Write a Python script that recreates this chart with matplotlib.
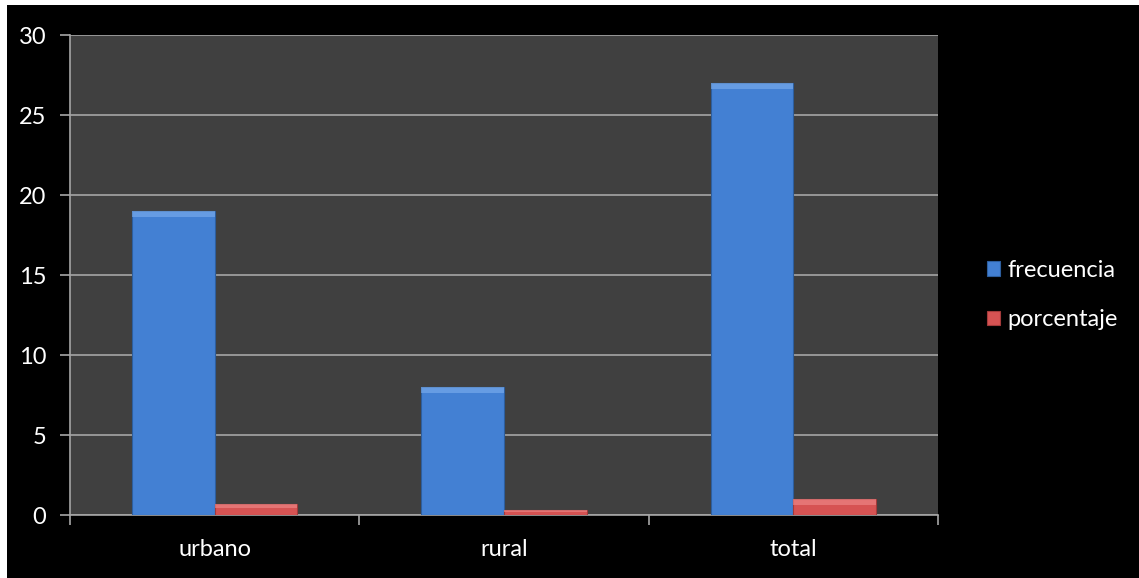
import matplotlib.pyplot as plt
import numpy as np
from matplotlib.patches import Rectangle

plt.rcParams['font.family'] = ['Lato', 'DejaVu Sans']

# data
categorias = ["urbano", "rural", "total"]
frecuencia = [19, 8, 27]
porcentaje = [0.7, 0.3, 1.0]

BLUE = "#4380d3"
RED = "#d65353"

fig = plt.figure(figsize=(11.39, 5.78), dpi=100, facecolor="white")
# black backdrop with thin white margin on left/top
fig.patches.append(Rectangle((7 / 1139, 0), 1, 1 - 5 / 578, transform=fig.transFigure,
                             facecolor="black", edgecolor="none", zorder=-10))

ax = fig.add_axes([70 / 1139, 63 / 578, 868 / 1139, 480 / 578])
ax.set_facecolor("#404040")

x = np.arange(len(categorias))
w = 1 / 3.5
b1 = ax.bar(x - w / 2, frecuencia, w, color=BLUE, edgecolor="#2d5e9e", linewidth=0.8,
            label="frecuencia", zorder=3)
b2 = ax.bar(x + w / 2, porcentaje, w, color=RED, edgecolor="#a33a3a", linewidth=0.8,
            label="porcentaje", zorder=3)

# light bevel on top of each bar
for bars, hi in ((b1, "#7fb0ee"), (b2, "#f08c8c")):
    for r in bars:
        h = r.get_height()
        band = min(0.35, h * 0.35)
        ax.add_patch(Rectangle((r.get_x(), h - band), r.get_width(), band,
                               facecolor=hi, edgecolor="none", alpha=0.6, zorder=4))

ax.set_xlim(-0.5, 2.5)
ax.set_ylim(0, 30)
ax.set_yticks(range(0, 31, 5))
ax.yaxis.grid(True, color="#a6a6a6", linewidth=1.2, zorder=1)
ax.set_axisbelow(True)

ax.set_xticks(x)
ax.set_xticklabels(categorias)
ax.set_xticks([-0.5, 0.5, 1.5, 2.5], minor=True)
ax.tick_params(axis="x", which="major", length=0, pad=17, labelsize=17, labelcolor="white")
ax.tick_params(axis="x", which="minor", length=7, color="#a6a6a6", width=1.2)
ax.tick_params(axis="y", length=7, color="#a6a6a6", width=1.2, labelsize=17,
               labelcolor="white", pad=10)

for s in ("top", "right"):
    ax.spines[s].set_visible(False)
for s in ("left", "bottom"):
    ax.spines[s].set_color("#a6a6a6")
    ax.spines[s].set_linewidth(1.2)

leg = fig.legend(handles=[b1, b2], loc="center left", bbox_to_anchor=(966 / 1139, 1 - 295 / 578),
                 frameon=False, fontsize=17, labelcolor="white", handlelength=0.55,
                 handleheight=0.55, handletextpad=0.3, labelspacing=1.2)

fig.savefig("out.png", dpi=100, facecolor=fig.get_facecolor())
